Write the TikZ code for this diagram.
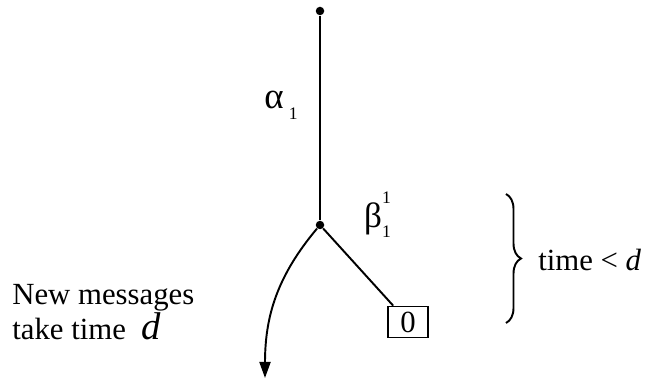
\documentclass[tikz,border=0pt]{standalone}
\usepackage{fontspec}
\setmainfont{Liberation Serif}
\usetikzlibrary{arrows.meta,decorations.pathreplacing}
\newcommand{\idx}[1]{{\fontsize{10}{10}\selectfont #1}}
\tikzset{
  dot/.style={circle,fill,inner sep=0pt,minimum size=0.17cm},
  lbl/.style={font=\fontsize{17.5}{16.5}\selectfont,inner sep=0pt},
  edge/.style={line width=1.1pt}
}
\begin{document}
\begin{tikzpicture}
\useasboundingbox (0,0) rectangle (13.08,7.6);
\node[dot] (top) at (6.4,7.38) {};
\node[dot] (mid) at (6.4,3.1) {};
\node[lbl,draw,line width=1pt,minimum width=0.8cm,minimum height=0.62cm] (zero) at (8.16,1.16) {0};
\coordinate (tip) at (5.3,0.04);
\draw[edge] (top)--(mid);
\draw[edge] (mid)--(zero);
\draw[edge,-{Triangle[length=0.32cm,width=0.22cm]}] (mid) to [out=-130,in=90] (tip);
\node[lbl] (alpha) at (5.62,5.5) {{\fontsize{21}{20}\selectfont α}\,\raisebox{-0.8ex}{\idx{1}}};
\node[lbl] (beta) at (7.55,3.3) {{\fontsize{20}{20}\selectfont β}\rlap{\raisebox{1.7ex}{\idx{1}}}\raisebox{-0.7ex}{\idx{1}}};
\node[lbl,align=left,anchor=west] (msg) at (0.24,1.35) {New messages\\take time \ {\fontsize{22}{16.5}\selectfont\textit{d}}};
\coordinate (bt) at (10.12,3.72);
\coordinate (bb) at (10.12,1.14);
\draw[line width=1.1pt,decorate,decoration={brace,amplitude=0.3cm}] (bt)--(bb);
\node[lbl,anchor=west] (time) at (10.76,2.4) {time < \textit{d}};
\end{tikzpicture}
\end{document}
